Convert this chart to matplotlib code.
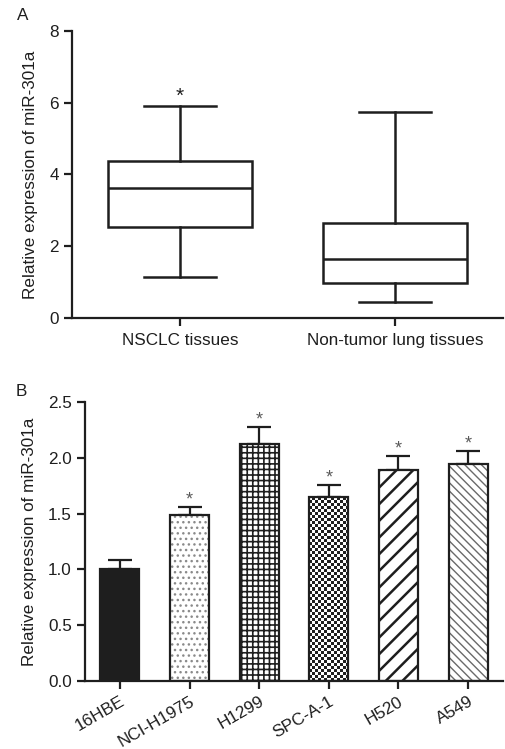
import numpy as np
import matplotlib
matplotlib.use("Agg")
import matplotlib.pyplot as plt
import matplotlib.transforms as mtransforms

plt.rcParams['font.family'] = ['Liberation Sans', 'DejaVu Sans']

# ---------------- data ----------------
# Panel A: box plot statistics
groups_a = ["NSCLC tissues", "Non-tumor lung tissues"]
whislo_a = [1.13, 0.44]
q1_a = [2.53, 0.97]
med_a = [3.61, 1.64]
q3_a = [4.38, 2.64]
whishi_a = [5.90, 5.73]
sig_a = ["*", ""]
yticks_a = [0, 2, 4, 6, 8]

# Panel B: bar chart
cells_b = ["16HBE", "NCI-H1975", "H1299", "SPC-A-1", "H520", "A549"]
means_b = [1.00, 1.49, 2.13, 1.65, 1.89, 1.95]
errs_b = [0.08, 0.07, 0.15, 0.11, 0.13, 0.11]
sig_b = ["", "*", "*", "*", "*", "*"]
yticks_b = [0.0, 0.5, 1.0, 1.5, 2.0, 2.5]

ylabel = "Relative expression of miR-301a"
ink = '#1e1e1e'
fs = 12.3

fig = plt.figure(figsize=(5.05, 7.49), dpi=100)

def style_axes(ax):
    for s in ['top', 'right']:
        ax.spines[s].set_visible(False)
    for s in ['left', 'bottom']:
        ax.spines[s].set_linewidth(1.6)
        ax.spines[s].set_color(ink)
    ax.tick_params(width=1.6, length=6, color=ink, labelsize=fs, labelcolor=ink)

# ---------------- Panel A ----------------
axA = fig.add_axes([72/505, 1-318/749, 431/505, (318-30.7)/749])
stats = []
for i in range(len(groups_a)):
    stats.append(dict(med=med_a[i], q1=q1_a[i], q3=q3_a[i],
                      whislo=whislo_a[i], whishi=whishi_a[i], fliers=[]))
lw = 1.8
pos_a = np.arange(1, len(groups_a) + 1)
axA.bxp(stats, positions=pos_a, widths=0.67, showfliers=False,
        patch_artist=True,
        boxprops=dict(facecolor='white', edgecolor=ink, linewidth=lw),
        medianprops=dict(color=ink, linewidth=lw),
        whiskerprops=dict(color=ink, linewidth=lw),
        capprops=dict(color=ink, linewidth=lw))
for i, s in enumerate(sig_a):
    if s:
        axA.annotate(s, (pos_a[i], whishi_a[i]), xytext=(0, 0), textcoords='offset points',
                     ha='center', va='bottom', fontsize=15, color=ink)
axA.set_xlim(0.5, 2.5)
axA.set_ylim(0, 8)
axA.set_yticks(yticks_a)
axA.set_xticks(pos_a)
axA.set_xticklabels(groups_a)
axA.tick_params(axis='x', pad=5)
axA.set_ylabel(ylabel, fontsize=fs, color=ink, labelpad=8)
style_axes(axA)
fig.text(23/505, 1-16/749, "A", fontsize=fs, ha='center', va='center', color=ink)

# ---------------- Panel B ----------------
axB = fig.add_axes([85/505, 1-680.7/749, 418/505, (680.7-402.3)/749])
axB.set_xlim(-0.5, 5.5)
axB.set_ylim(0, 2.5)
x = np.arange(len(cells_b))
bw = 0.56

hatches = [None, '...', '+++', None, '//', '\\\\\\\\']
hatch_cols = [None, '#8a8a8a', ink, None, ink, '#6a6a6a']
hatch_lws = [1.0, 1.0, 1.2, 1.0, 1.8, 1.0]

for i in range(len(cells_b)):
    if i == 0:
        axB.bar(x[i], means_b[i], width=bw, color=ink, edgecolor=ink, linewidth=1.6, zorder=2)
    else:
        if hatches[i]:
            b = axB.bar(x[i], means_b[i], width=bw, color='white', edgecolor=hatch_cols[i],
                        linewidth=0, hatch=hatches[i], zorder=2)[0]
            try:
                b.set_hatch_linewidth(hatch_lws[i])
            except AttributeError:
                pass
        else:
            b = axB.bar(x[i], means_b[i], width=bw, color='white', edgecolor='none',
                        linewidth=0, zorder=2)[0]
            # checkerboard fill clipped to the bar
            p0 = axB.transData.transform((0, 0))
            p1 = axB.transData.transform((1, 1))
            pxx = p1[0] - p0[0]
            pxy = p1[1] - p0[1]
            cell = 3.0
            ncol = max(1, int(round(bw * pxx / cell)))
            nrow = max(1, int(round(means_b[i] * pxy / cell)))
            rr, cc = np.indices((nrow, ncol))
            board = ((rr + cc) % 2).astype(float)
            im = axB.imshow(board, cmap='gray_r', vmin=0, vmax=1.15,
                            extent=(x[i] - bw/2, x[i] + bw/2, 0, means_b[i]),
                            origin='lower', interpolation='nearest', aspect='auto', zorder=2)
            im.set_clip_path(b)
        axB.bar(x[i], means_b[i], width=bw, color='none', edgecolor=ink, linewidth=1.6, zorder=3)

axB.errorbar(x, means_b, yerr=[np.zeros(len(errs_b)), errs_b], fmt='none',
             ecolor=ink, elinewidth=1.6, capsize=8.5, capthick=1.6, zorder=1)
for i, s in enumerate(sig_b):
    if s:
        axB.annotate(s, (x[i], means_b[i] + errs_b[i]), xytext=(0, -1), textcoords='offset points',
                     ha='center', va='bottom', fontsize=13, color='#5a5a5a')

axB.set_aspect('auto')
axB.set_xlim(-0.5, 5.5)
axB.set_ylim(0, 2.5)
axB.set_yticks(yticks_b)
axB.set_yticklabels([f"{v:.1f}" for v in yticks_b])
axB.set_xticks(x)
axB.set_xticklabels(cells_b, rotation=30, ha='right', va='top', rotation_mode='anchor')
offset = mtransforms.ScaledTranslation(6/100, -1/100, fig.dpi_scale_trans)
for lab in axB.get_xticklabels():
    lab.set_transform(lab.get_transform() + offset)
axB.set_ylabel(ylabel, fontsize=fs, color=ink, labelpad=8)
style_axes(axB)
fig.text(21/505, 1-391/749, "B", fontsize=fs, ha='center', va='center', color=ink)

fig.savefig("out.png", dpi=100, facecolor='white')
